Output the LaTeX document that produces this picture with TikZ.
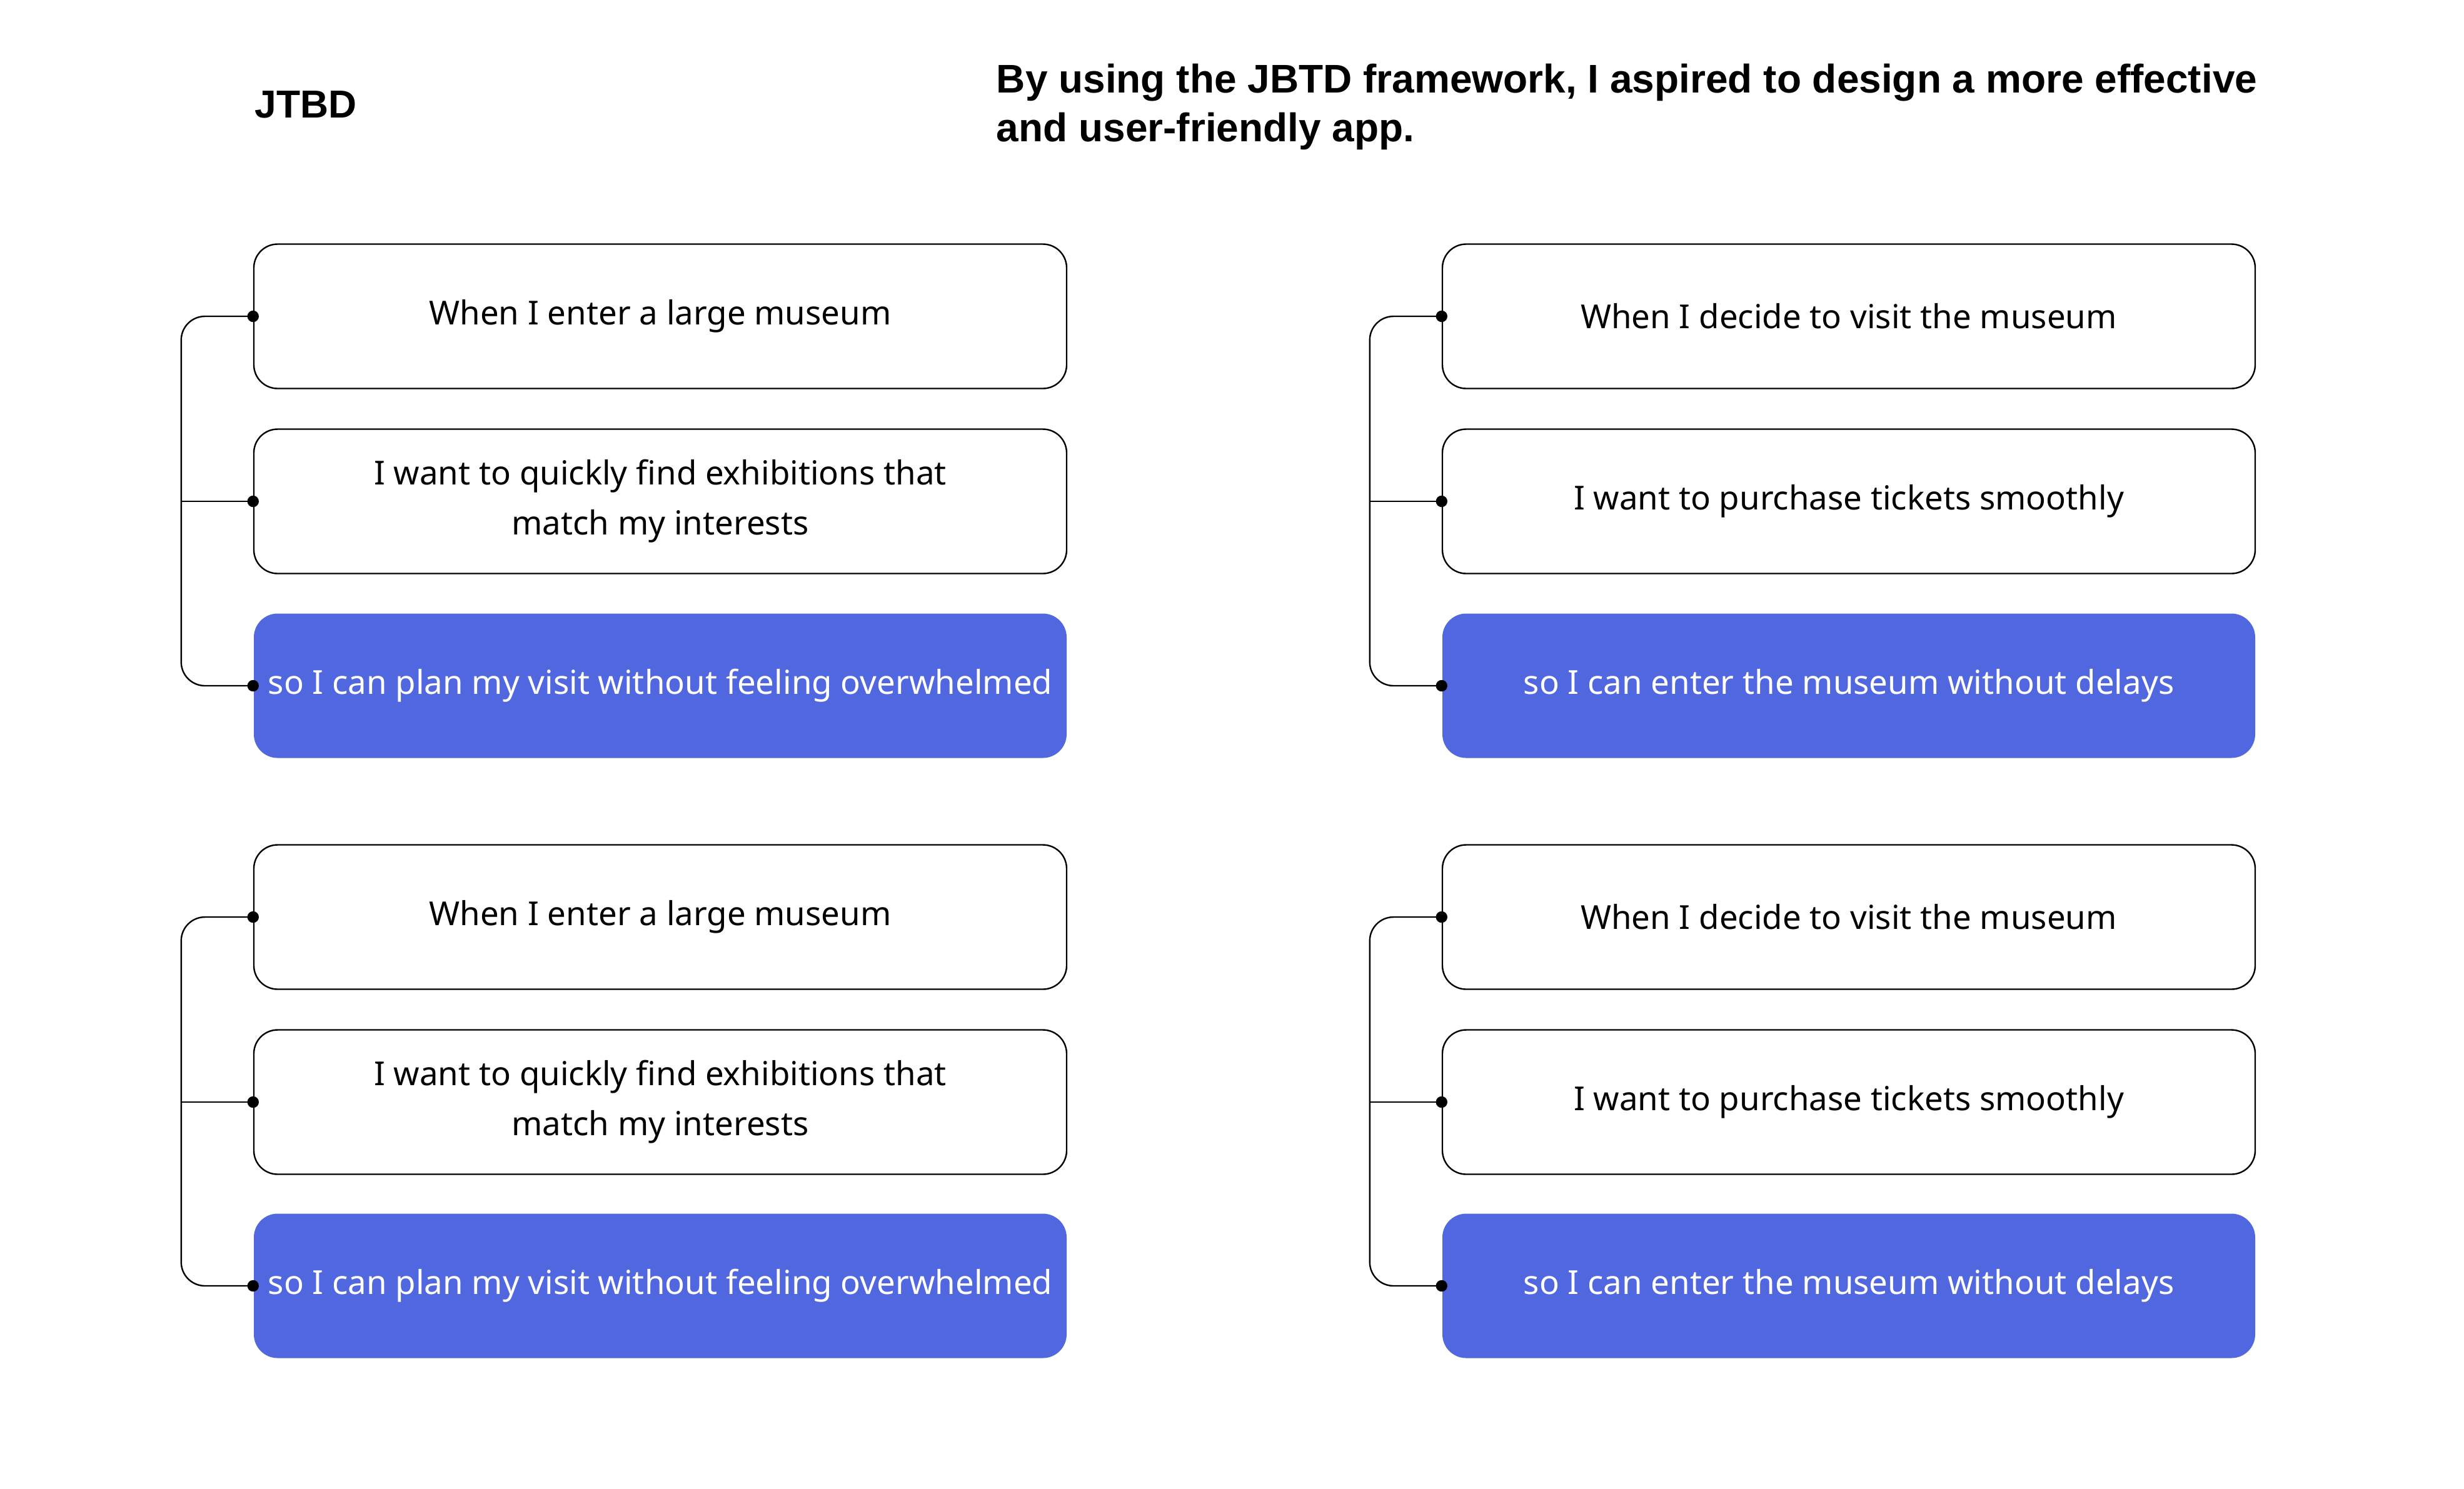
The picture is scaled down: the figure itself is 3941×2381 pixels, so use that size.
\documentclass[tikz,border=0pt]{standalone}
\usepackage{fontspec}
\setmainfont{Noto Sans}
\newfontfamily\headfont{Liberation Sans}
\definecolor{jblue}{RGB}{81,103,224}
\tikzset{
  card/.style={rectangle, rounded corners=9.5pt, minimum width=325pt, minimum height=57.75pt,
    line width=0.6pt, align=center, font=\fontsize{13.2}{20}\selectfont, inner sep=0pt},
  plain/.style={card, draw=black, fill=white, text=black},
  goal/.style={card, fill=jblue, text=white},
  link/.style={line width=0.6pt, rounded corners=9.5pt},
  dot/.style={fill=black}
}
\begin{document}
\begin{tikzpicture}[x=0.25pt,y=-0.25pt]
\useasboundingbox (0,0) rectangle (3941,2381);
\fill[white] (0,0) rectangle (3941,2381);

\node[anchor=west, inner sep=0pt, font=\headfont\fontsize{15.6}{19.5}\selectfont\bfseries] (title) at (407,167) {JTBD};
\node[anchor=west, align=left, inner sep=0pt, font=\headfont\fontsize{16}{19.5}\selectfont\bfseries] (head) at (1593,171)
  {By using the JBTD framework, I aspired to design a more effective\\and user-friendly app.};

% upper left
\node[plain] (a1) at (1056,506) {When I enter a large museum};
\node[plain] (a2) at (1056,802) {I want to quickly find exhibitions that\\match my interests};
\node[goal]  (a3) at (1056,1097) {so I can plan my visit without feeling overwhelmed};
% upper right
\node[plain] (b1) at (2957,506) {When I decide to visit the museum};
\node[plain] (b2) at (2957,802) {I want to purchase tickets smoothly};
\node[goal]  (b3) at (2957,1097) {so I can enter the museum without delays};
% lower left
\node[plain] (c1) at (1056,1467) {When I enter a large museum};
\node[plain] (c2) at (1056,1763) {I want to quickly find exhibitions that\\match my interests};
\node[goal]  (c3) at (1056,2057) {so I can plan my visit without feeling overwhelmed};
% lower right
\node[plain] (d1) at (2957,1467) {When I decide to visit the museum};
\node[plain] (d2) at (2957,1763) {I want to purchase tickets smoothly};
\node[goal]  (d3) at (2957,2057) {so I can enter the museum without delays};

\foreach \g in {a,b,c,d}{
  \draw[link] (\g1.west) -| ([xshift=-28.75pt]\g3.west) -- (\g3.west);
  \draw[line width=0.6pt] (\g2.west) -- ([xshift=-28.75pt]\g2.west);
  \fill[dot] (\g1.west) circle (2.3pt);
  \fill[dot] (\g2.west) circle (2.3pt);
  \fill[dot] (\g3.west) circle (2.3pt);
}
\end{tikzpicture}
\end{document}
